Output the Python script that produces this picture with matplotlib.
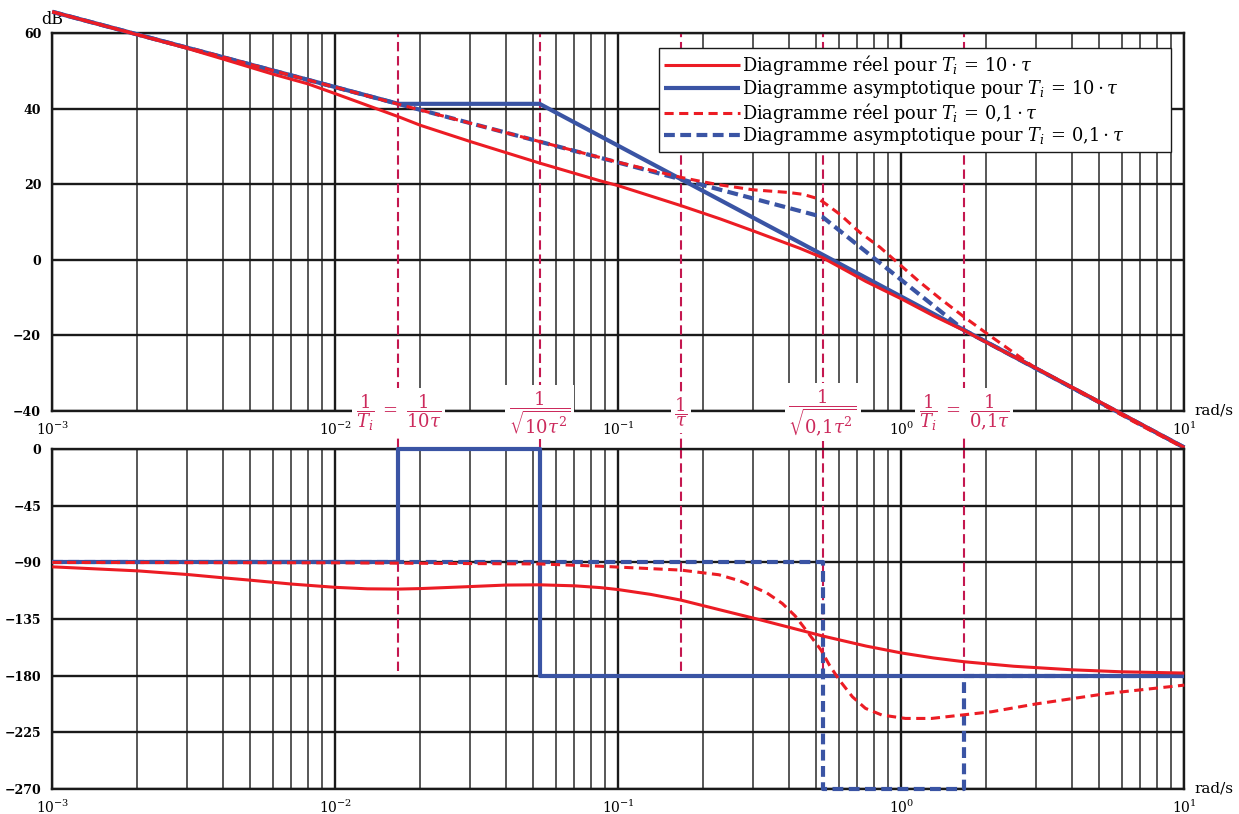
import numpy as np
import matplotlib
matplotlib.use("Agg")
import matplotlib.pyplot as plt
import matplotlib.ticker as mticker
import matplotlib.transforms as mtrans
from matplotlib.patches import Rectangle

plt.rcParams['font.family'] = ['DejaVu Serif']
plt.rcParams['mathtext.fontset'] = 'dejavuserif'

# ---------------- data ----------------
# Gain (dB)
w_asym10_mag = [0.001, 0.0167, 0.0527, 10.0]
db_asym10 = [65.7, 41.3, 41.3, -49.8]

w_asym01_mag = [0.001, 0.527, 1.667, 10.0]
db_asym01 = [65.7, 11.3, -18.7, -49.8]

w_real10_mag = [0.001, 0.002, 0.003, 0.004, 0.005, 0.006, 0.008, 0.01, 0.0167, 0.02,
                0.03, 0.0527, 0.0862, 0.1, 0.1667, 0.229, 0.3, 0.438, 0.527, 0.6,
                0.75, 1.0, 1.3, 1.667, 2.2, 3.0, 5.0, 10.0]
db_real10 = [65.7, 59.6, 56.0, 53.2, 51.0, 49.2, 46.6, 44.0, 37.9, 35.6,
             31.3, 25.6, 20.9, 19.6, 14.3, 10.8, 7.6, 3.0, 0.5, -1.8,
             -5.8, -10.4, -14.9, -18.8, -23.6, -28.8, -37.6, -49.8]

w_real01_mag = [0.001, 0.004, 0.0167, 0.0527, 0.1, 0.1667, 0.2, 0.229, 0.3, 0.4,
                0.45, 0.5, 0.527, 0.607, 0.714, 0.84, 0.99, 1.16, 1.37, 1.667,
                1.99, 2.92, 4.37, 6.6, 10.0]
db_real01 = [65.7, 53.7, 41.2, 31.3, 25.8, 21.8, 20.6, 19.8, 18.5, 17.8,
             17.3, 16.3, 15.4, 12.0, 7.2, 3.3, -1.4, -5.9, -10.3, -15.2,
             -19.4, -28.3, -35.5, -42.9, -50.0]

# Phase (deg)
w_asym10_ph = [0.001, 0.0167, 0.0167, 0.0527, 0.0527, 10.0]
ph_asym10 = [-90, -90, 0, 0, -180, -180]

w_asym01_ph = [0.001, 0.527, 0.527, 1.667, 1.667, 10.0]
ph_asym01 = [-90, -90, -270, -270, -180, -180]

w_real10_ph = [0.001, 0.002, 0.003, 0.004, 0.005, 0.007, 0.01, 0.013, 0.0167, 0.02,
               0.03, 0.04, 0.0527, 0.07, 0.0862, 0.1, 0.13, 0.1667, 0.2267, 0.309,
               0.4, 0.527, 0.75, 1.0, 1.3, 1.667, 2.5, 4.0, 6.0, 10.0]
ph_real10 = [-93.5, -96.7, -99.6, -102.2, -104.1, -107.2, -109.8, -111.0, -111.2, -110.8,
             -109.2, -108.0, -107.8, -108.6, -110.0, -111.6, -115.4, -120.0, -127.5, -135.0,
             -141.5, -148.5, -156.5, -162.0, -166.0, -169.0, -172.6, -175.4, -177.0, -178.0]

w_real01_ph = [0.001, 0.01, 0.0527, 0.0862, 0.1667, 0.2267, 0.2686, 0.3348, 0.3795, 0.4214,
               0.4686, 0.5205, 0.5572, 0.6042, 0.6719, 0.7473, 0.8537, 1.034, 1.28, 1.635,
               2.083, 2.967, 5.358, 10.0]
ph_real01 = [-90.0, -90.3, -91.2, -93.0, -96.1, -99.8, -104.6, -114.2, -122.6, -132.5,
             -146.0, -159.7, -171.7, -183.6, -196.9, -206.1, -211.4, -214.1, -214.1, -211.4,
             -208.8, -202.7, -194.2, -187.6]

# Characteristic pulsations (rad/s) and their labels
w_marks = [0.0167, 0.0527, 0.1667, 0.527, 1.667]
mark_labels = [r'$\dfrac{1}{T_i}\;=\;\dfrac{1}{10\tau}$',
               r'$\dfrac{1}{\sqrt{10\tau^2}}$',
               r'$\dfrac{1}{\tau}$',
               r'$\dfrac{1}{\sqrt{0{,}1\tau^2}}$',
               r'$\dfrac{1}{T_i}\;=\;\dfrac{1}{0{,}1\tau}$']

legend_labels = [r'Diagramme réel pour $T_i\,=\,10\cdot\tau$',
                 r'Diagramme asymptotique pour $T_i\,=\,10\cdot\tau$',
                 r'Diagramme réel pour $T_i\,=\,0{,}1\cdot\tau$',
                 r'Diagramme asymptotique pour $T_i\,=\,0{,}1\cdot\tau$']

gain_ticks = [-40, -20, 0, 20, 40, 60]
phase_ticks = [-270, -225, -180, -135, -90, -45, 0]

# ---------------- styles ----------------
RED = '#ec1c24'
BLUE = '#3a54a4'
CRIMSON = '#c4174f'
LABELC = '#cc2a5c'

st_real10 = dict(color=RED, lw=2.2, solid_capstyle='butt')
st_asym10 = dict(color=BLUE, lw=3.0, solid_capstyle='butt')
st_real01 = dict(color=RED, lw=2.2, dashes=(3.0, 1.8))
st_asym01 = dict(color=BLUE, lw=3.0, dashes=(2.6, 1.3))

fig = plt.figure(figsize=(12.39, 8.14), dpi=100)
ax1 = fig.add_axes([0.04221, 0.49570, 0.91364, 0.46339])
ax2 = fig.add_axes([0.04221, 0.03108, 0.91364, 0.41695])

for ax in (ax1, ax2):
    ax.set_xscale('log')
    ax.set_xlim(1e-3, 1e1)
    ax.xaxis.set_major_locator(mticker.LogLocator(base=10, numticks=10))
    ax.xaxis.set_minor_locator(mticker.LogLocator(base=10, subs=np.arange(2, 10), numticks=100))
    ax.xaxis.set_minor_formatter(mticker.NullFormatter())
    ax.grid(True, which='major', axis='both', color='#1a1a1a', lw=1.7)
    ax.grid(True, which='minor', axis='x', color='#4a4a4a', lw=1.3)
    ax.tick_params(which='both', length=0)
    ax.tick_params(axis='y', pad=8, labelsize=9)
    ax.tick_params(axis='x', pad=7, labelsize=10)
    for s in ax.spines.values():
        s.set_color('#1a1a1a')
        s.set_linewidth(1.7)

ax1.set_ylim(-40, 60)
ax1.set_yticks(gain_ticks)
ax2.set_ylim(-270, 0)
ax2.set_yticks(phase_ticks)
for ax in (ax1, ax2):
    plt.setp(ax.get_yticklabels(), fontweight='bold')

# vertical markers
for w in w_marks:
    ax1.axvline(w, ymin=-0.1, ymax=1, color=CRIMSON, lw=1.5, dashes=(4.5, 2.3),
                clip_on=False, zorder=1.8)
    ax2.axvline(w, ymin=(270 - 176) / 270, ymax=1, color=CRIMSON, lw=1.5,
                dashes=(4.5, 2.3), clip_on=False, zorder=1.8)

# gain curves
h2, = ax1.plot(w_asym10_mag, db_asym10, clip_on=False, zorder=3, **st_asym10)
h4, = ax1.plot(w_asym01_mag, db_asym01, clip_on=False, zorder=3.1, **st_asym01)
h1, = ax1.plot(w_real10_mag, db_real10, clip_on=False, zorder=3.2, **st_real10)
h3, = ax1.plot(w_real01_mag, db_real01, clip_on=False, zorder=3.3, **st_real01)

# phase curves
ax2.plot(w_asym10_ph, ph_asym10, clip_on=False, zorder=3, **st_asym10)
ax2.plot(w_asym01_ph, ph_asym01, clip_on=False, zorder=3.1, **st_asym01)
ax2.plot(w_real10_ph, ph_real10, clip_on=False, zorder=3.2, **st_real10)
ax2.plot(w_real01_ph, ph_real01, clip_on=False, zorder=3.3, **st_real01)

# legend: frame drawn separately (the reference box is wider than its texts)
AW, AH = 1132.0, 377.2
box_x0, box_x1, box_top, box_bot = 659, 1171, 48, 152   # pixels
ax1.add_patch(Rectangle(((box_x0 - 52.3) / AW, 1 - (box_bot - 33.3) / AH),
                        (box_x1 - box_x0) / AW, (box_bot - box_top) / AH,
                        transform=ax1.transAxes, facecolor='white',
                        edgecolor='#1a1a1a', lw=1.0, zorder=5.8, clip_on=False))
leg = ax1.legend([h1, h2, h3, h4], legend_labels, loc='upper left',
                 bbox_to_anchor=((box_x0 - 52.3) / AW, 1 - (box_top - 33.3) / AH),
                 borderaxespad=0, frameon=False,
                 fontsize=12.8, handlelength=4.25, handletextpad=0.1, labelspacing=0.04,
                 borderpad=0.3)
leg.set_zorder(6)

# marker labels in the gap
blend = mtrans.blended_transform_factory(ax1.transData, ax1.transAxes)
for w, lab in zip(w_marks, mark_labels):
    ax1.text(w, -0.005, lab, transform=blend, ha='center', va='center',
             fontsize=13, color=LABELC, zorder=5, clip_on=False,
             bbox=dict(boxstyle='square,pad=0.2', facecolor='white', edgecolor='none'))

# unit labels
ax1.text(0, 1 + 14 / 377, 'dB', transform=ax1.transAxes, ha='center', va='center',
         fontsize=11.5)
ax1.text(1 + 10 / 1132, 0.0, 'rad/s', transform=ax1.transAxes, ha='left', va='center',
         fontsize=11)
ax2.text(1 + 10 / 1132, 0.0, 'rad/s', transform=ax2.transAxes, ha='left', va='center',
         fontsize=11)

fig.savefig('out.png', dpi=100)
